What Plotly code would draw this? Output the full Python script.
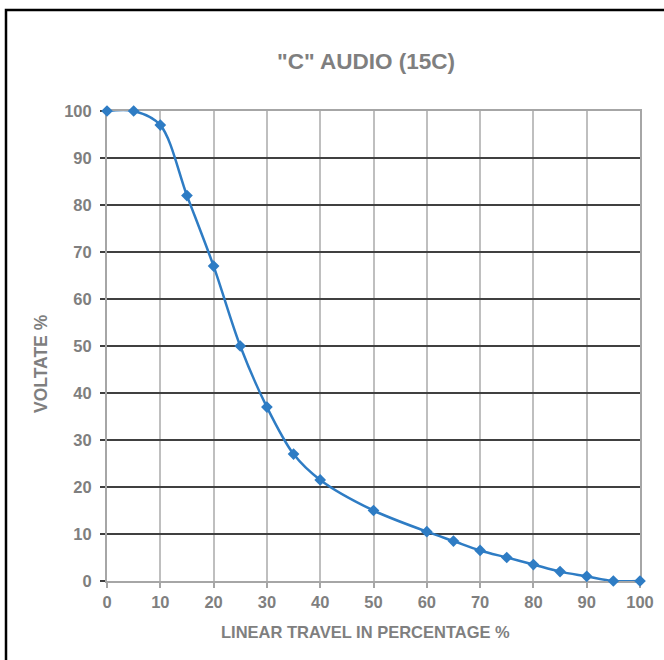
import plotly.graph_objects as go

travel = [0, 5, 10, 15, 20, 25, 30, 35, 40, 50, 60, 65, 70, 75, 80, 85, 90, 95, 100]
voltage = [100, 100, 97, 82, 67, 50, 37, 27, 21.5, 15, 10.5, 8.5, 6.5, 5, 3.5, 2, 1, 0, 0]
tick_vals = list(range(0, 101, 10))

title_text = '"C" AUDIO (15C)'
x_title = "LINEAR TRAVEL IN PERCENTAGE %"
y_title = "VOLTATE %"

BLUE = "#2E7CC4"
GREY_TXT = "#7F7F7F"
FONT = "Liberation Sans, Arial, sans-serif"

fig = go.Figure()
fig.add_trace(go.Scatter(
    x=travel, y=voltage, mode="lines+markers",
    line=dict(color=BLUE, width=2.5, shape="spline", smoothing=0.9),
    marker=dict(symbol="diamond", size=9, color=BLUE),
    cliponaxis=False,
    showlegend=False, hoverinfo="x+y",
))

L, R, T, B = 107, 24, 111, 79
W, H = 664, 660
pw, ph = W - L - R, H - T - B

fig.update_layout(
    width=W, height=H,
    margin=dict(l=L, r=R, t=T, b=B, autoexpand=False),
    paper_bgcolor="white", plot_bgcolor="white",
    font=dict(family=FONT, color=GREY_TXT),
    title=dict(text="<b>" + title_text + "</b>", x=366 / W, xanchor="center",
               y=1 - 61 / H, yanchor="middle",
               font=dict(size=22.5, color=GREY_TXT, family=FONT)),
    xaxis=dict(range=[0, 100], tickvals=tick_vals, showgrid=True,
               gridcolor="#BFBFBF", gridwidth=1.5, automargin=False,
               showline=True, linecolor="#A6A6A6", linewidth=2, mirror=True,
               ticks="outside", ticklen=5, tickcolor="#A6A6A6", tickwidth=1.5,
               zeroline=False, layer="below traces",
               tickfont=dict(size=16.5, color=GREY_TXT, family=FONT),
               ticktext=["<b>%d</b>" % v for v in tick_vals]),
    yaxis=dict(range=[0, 100], tickvals=tick_vals, showgrid=True,
               gridcolor="#404040", gridwidth=1.5, automargin=False,
               showline=True, linecolor="#A6A6A6", linewidth=2, mirror=True,
               ticks="outside", ticklen=5, tickcolor="#404040", tickwidth=1.5,
               ticklabelstandoff=5,
               zeroline=False, layer="below traces",
               tickfont=dict(size=16.5, color=GREY_TXT, family=FONT),
               ticktext=["<b>%d</b>" % v for v in tick_vals]),
)

# axis titles as annotations placed where the reference has them
fig.add_annotation(text="<b>" + y_title + "</b>", xref="paper", yref="paper",
                   x=(41 - L) / pw, y=(T + ph - 364) / ph,
                   xanchor="center", yanchor="middle", textangle=-90,
                   showarrow=False,
                   font=dict(size=17.5, color=GREY_TXT, family=FONT))
fig.add_annotation(text="<b>" + x_title + "</b>", xref="paper", yref="paper",
                   x=(365 - L) / pw, y=(T + ph - 632) / ph,
                   xanchor="center", yanchor="middle",
                   showarrow=False,
                   font=dict(size=16.5, color=GREY_TXT, family=FONT))

# outer black frame (extends past right/bottom edges)
fig.add_shape(type="rect", xref="paper", yref="paper",
              x0=(6 - L) / pw, x1=(W + 20 - L) / pw,
              y0=-(H + 20 - (T + ph)) / ph, y1=(T + ph - 10) / ph,
              line=dict(color="black", width=2.5), fillcolor="rgba(0,0,0,0)",
              layer="above")

fig.write_html("out.html", config={"displayModeBar": False},
               post_script="document.body.style.margin='0';document.body.style.overflow='hidden';")
